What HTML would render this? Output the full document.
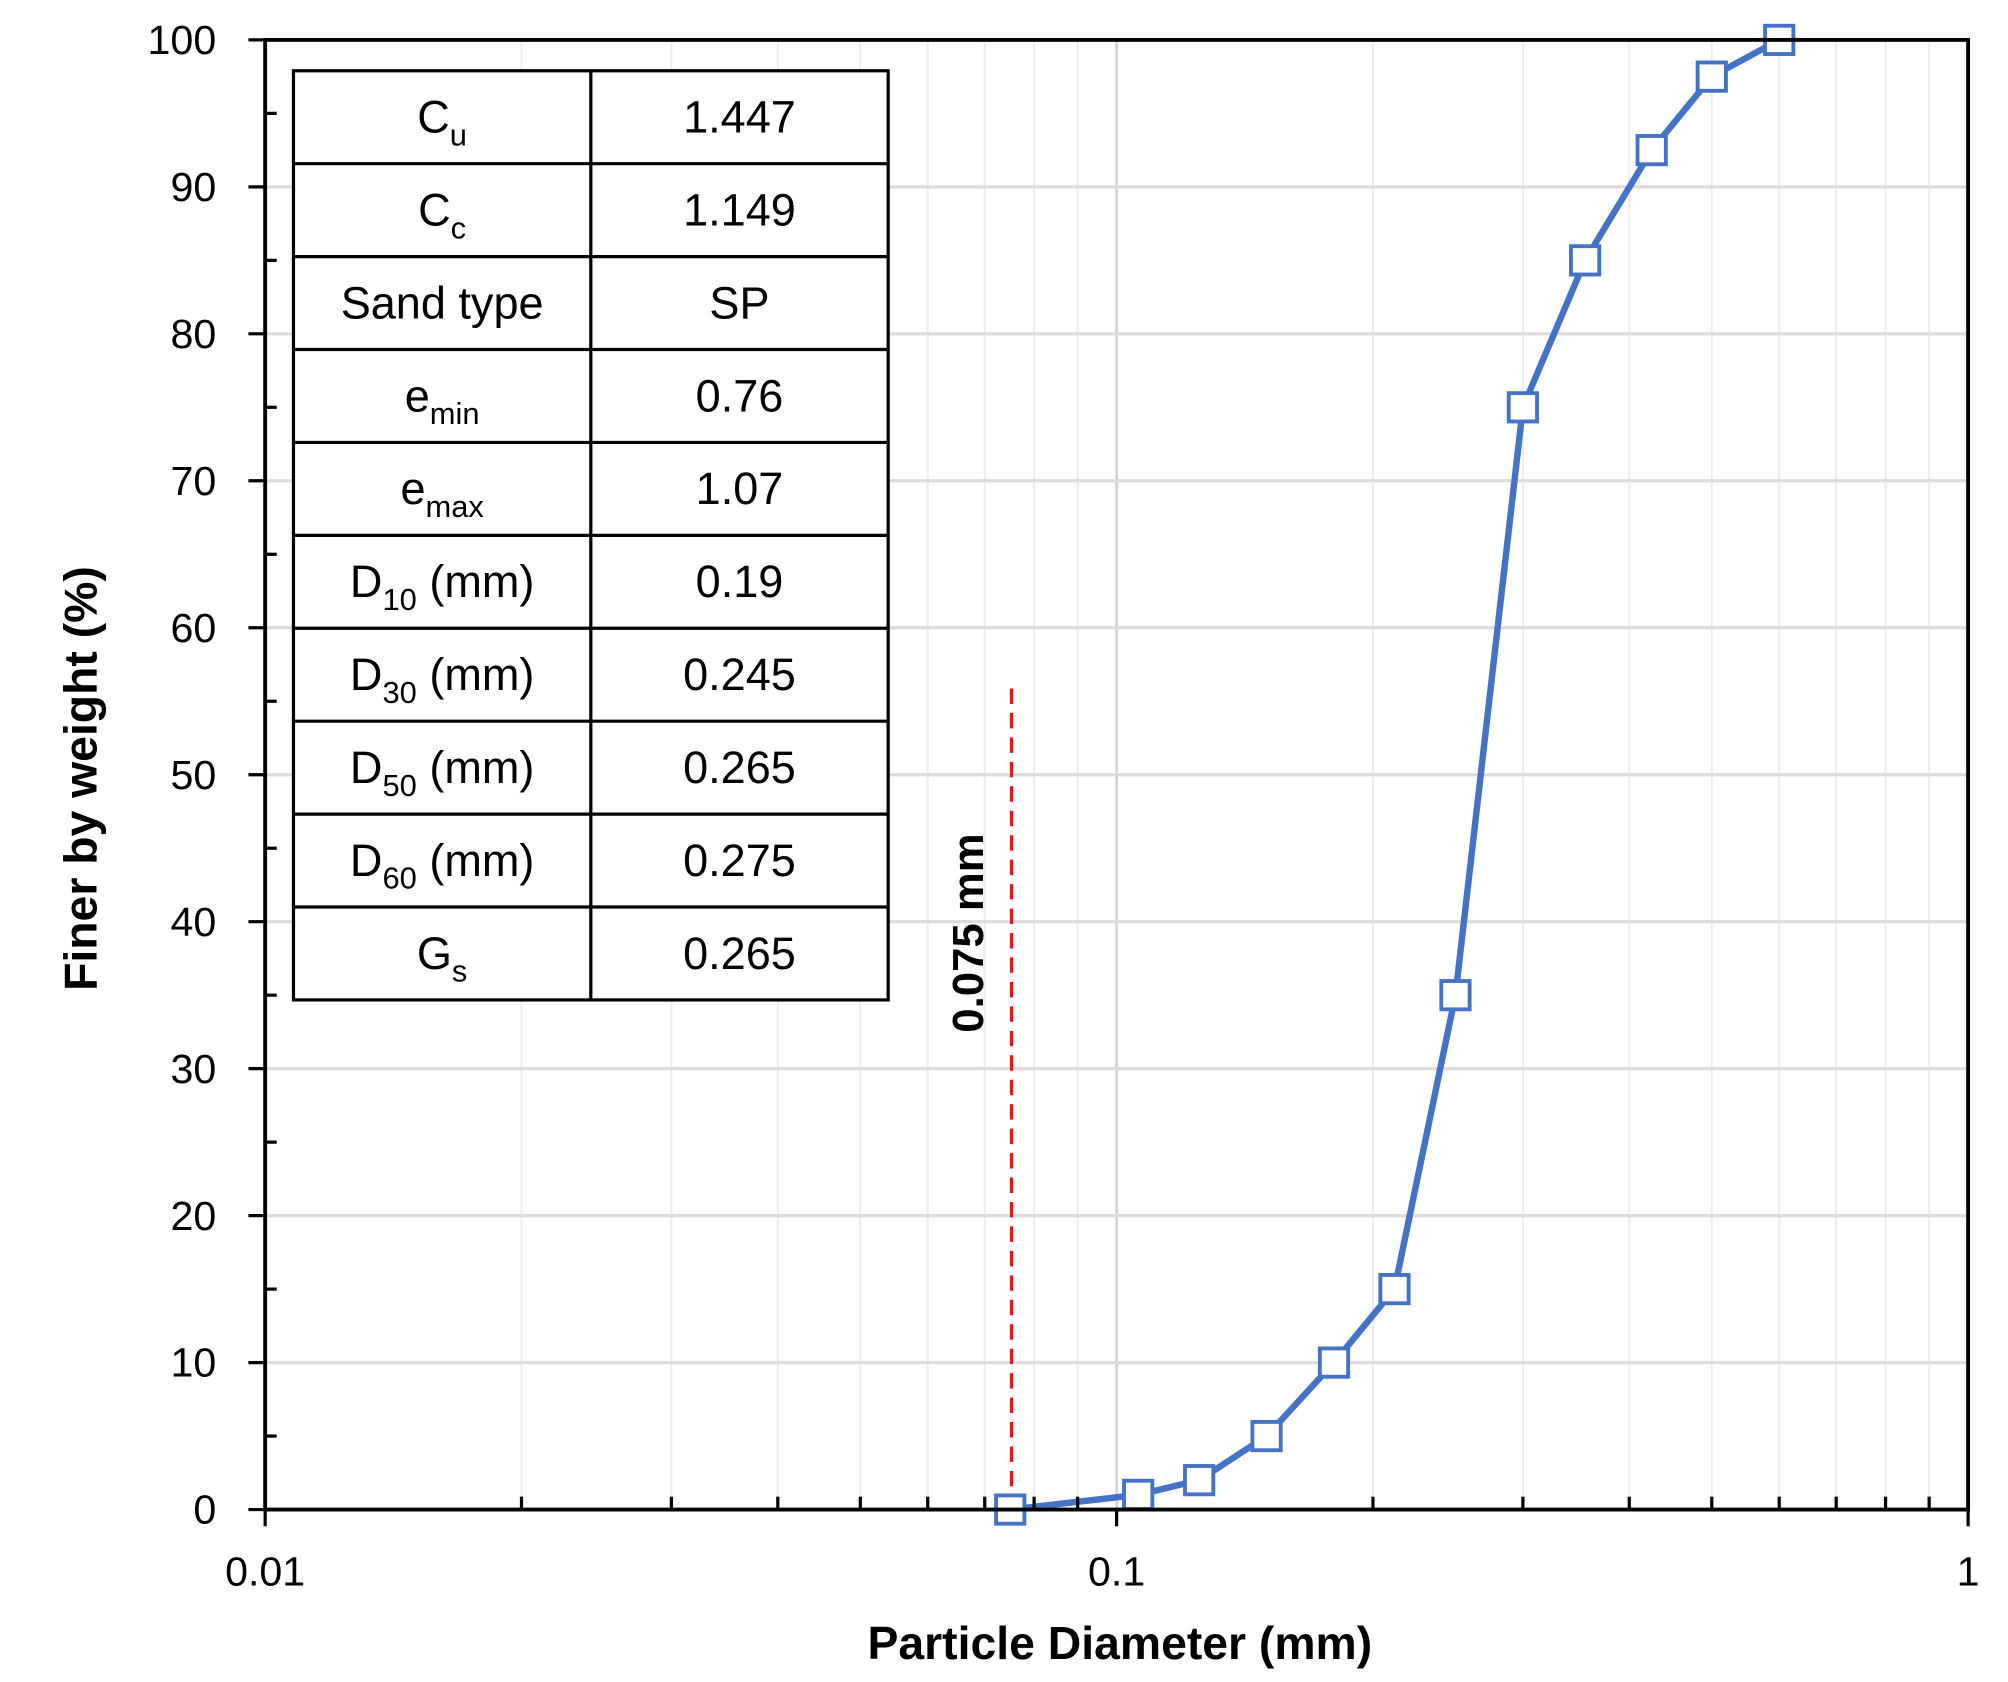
<!DOCTYPE html>
<html><head><meta charset="utf-8"><style>
html,body{margin:0;padding:0;background:#fff;}
svg{display:block;}
text{font-family:"Liberation Sans",sans-serif;}
</style></head><body>
<svg id="chart" width="2008" height="1682" viewBox="0 0 1560 1307" preserveAspectRatio="none" xmlns="http://www.w3.org/2000/svg">
<g id="grid"></g>
<g id="table"></g>
<g id="marks"></g>
<g id="axes"></g>
</svg>
<script>
const diameters = [0.075, 0.106, 0.125, 0.15, 0.18, 0.212, 0.25, 0.3, 0.355, 0.425, 0.5, 0.6];
const finer = [0, 1, 2, 5, 10, 15, 35, 75, 85, 92.5, 97.5, 100];
const yTicks = [0,10,20,30,40,50,60,70,80,90,100];
const xTickLabels = ["0.01","0.1","1"];
const xTickValues = [0.01,0.1,1];
const tableLabels = ["C|u","C|c","Sand type","e|min","e|max","D|10| (mm)","D|30| (mm)","D|50| (mm)","D|60| (mm)","G|s"];
const tableValues = ["1.447","1.149","SP","0.76","1.07","0.19","0.245","0.265","0.275","0.265"];
const markerLineValue = 0.075;

const L=206,R=1529,T=31,B=1173;
const xs=v=>L+(Math.log10(v)+2)/2*(R-L);
const ys=v=>B-v/100*(B-T);
const NS="http://www.w3.org/2000/svg";
function mk(tag,attrs,parent){const e=document.createElementNS(NS,tag);for(const k in attrs)e.setAttribute(k,attrs[k]);parent.appendChild(e);return e;}
const grid=document.getElementById('grid'),axes=document.getElementById('axes'),marks=document.getElementById('marks'),table=document.getElementById('table');

for(let d=-2;d<0;d++){for(let m=1;m<=9;m++){const v=m*Math.pow(10,d);const x=xs(v);
 const l=mk('line',{x1:x,x2:x,y1:T,y2:B,stroke:m===1?'#d0d0d0':'#ececec','stroke-width':m===1?2:1.5},grid);
 
 
 if(m>1){const t=mk('line',{x1:x,x2:x,y1:B-10,y2:B,stroke:'#000','stroke-width':2.5},axes);
 
 }
}}
yTicks.forEach(v=>{const y=ys(v);
 const l=mk('line',{x1:L,x2:R,y1:y,y2:y,stroke:'#dcdcdc','stroke-width':2.5},grid);
 
 
 const t=mk('line',{x1:L-13,x2:L,y1:y,y2:y,stroke:'#000','stroke-width':2.5},axes);
 
 
 const tx=mk('text',{x:L-38,y:y+11,'font-size':32,'text-anchor':'end',fill:'#000'},axes);tx.textContent=v;
 
 
 if(v<100){const m=mk('line',{x1:L,x2:L+9,y1:ys(v+5),y2:ys(v+5),stroke:'#000','stroke-width':2.5},axes);
 
 }
});
xTickValues.forEach((v,i)=>{const x=xs(v);
 const t=mk('line',{x1:x,x2:x,y1:B,y2:B+13,stroke:'#000','stroke-width':2.5},axes);
 
 
 const tx=mk('text',{x:x,y:B+59,'font-size':32,'text-anchor':'middle',fill:'#000'},axes);tx.textContent=xTickLabels[i];
 
 
});
const frame=mk('rect',{x:L,y:T,width:R-L,height:B-T,fill:'none',stroke:'#000','stroke-width':3},axes);


const xt=mk('text',{x:870,y:1289,'font-size':36,'font-weight':'bold','text-anchor':'middle'},axes);xt.textContent='Particle Diameter (mm)';


const yt=mk('text',{x:0,y:0,'font-size':36,'font-weight':'bold','text-anchor':'middle',transform:'translate(75,605) rotate(-90)'},axes);yt.textContent='Finer by weight (%)';



const tx0=228,tx1=459,tx2=690,ty0=55,rh=72.2;
const tr=mk('rect',{x:tx0,y:ty0,width:tx2-tx0,height:rh*10,fill:'#fff',stroke:'#000','stroke-width':2.5},table);


const vl=mk('line',{x1:tx1,x2:tx1,y1:ty0,y2:ty0+rh*10,stroke:'#000','stroke-width':2.5},table);


tableLabels.forEach((lab,i)=>{const y=ty0+rh*i;
 if(i>0){const hl=mk('line',{x1:tx0,x2:tx2,y1:y,y2:y,stroke:'#000','stroke-width':2.5},table);
 
 }
 const parts=lab.split('|');
 const t=mk('text',{x:(tx0+tx1)/2,y:y+48,'font-size':35,'text-anchor':'middle'},table);
 
 
 parts.forEach((p,j)=>{const s=mk('tspan',j===1?{'font-size':24,dy:10}:(j===2?{dy:-10}:{}),t);s.textContent=p;});
 const v=mk('text',{x:(tx1+tx2)/2,y:y+48,'font-size':35,'text-anchor':'middle'},table);v.textContent=tableValues[i];
 
 
});

const rx=xs(markerLineValue)+1;
const dl=mk('line',{x1:rx,x2:rx,y1:535,y2:B,stroke:'#e8141c','stroke-width':2.5,'stroke-dasharray':'12,7'},marks);


const dlt=mk('text',{x:0,y:0,'font-size':34,'font-weight':'bold','text-anchor':'middle',transform:`translate(${rx-22},725) rotate(-90)`},marks);dlt.textContent='0.075 mm';



const pts=diameters.map((d,i)=>xs(d)+','+ys(finer[i])).join(' ');
const pl=mk('polyline',{points:pts,fill:'none',stroke:'#4472c4','stroke-width':5,'stroke-linejoin':'round'},marks);


diameters.forEach((d,i)=>{const x=xs(d),y=ys(finer[i]);
 const r=mk('rect',{x:x-11,y:y-11,width:22,height:22,fill:'#fff',stroke:'#4472c4','stroke-width':3},marks);
 
 
});
</script>
</body></html>
